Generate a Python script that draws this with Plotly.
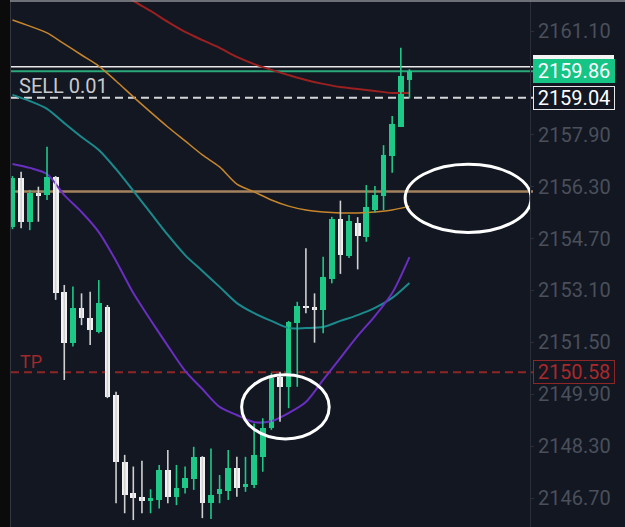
import plotly.graph_objects as go

# ---------------- data ----------------
opens = [2155.06, 2156.56, 2155.22, 2156.10, 2156.04, 2156.61, 2153.06, 2151.47, 2152.55, 2152.24,
         2151.83, 2152.60, 2149.88, 2147.82, 2146.84, 2146.72, 2146.62, 2146.64, 2147.56, 2146.74,
         2147.00, 2147.28, 2147.95, 2146.54, 2146.82, 2146.92, 2147.62, 2147.05, 2147.10, 2147.97,
         2148.85, 2150.44, 2150.13, 2152.11, 2152.62, 2152.58, 2152.50, 2153.44, 2155.29, 2154.16,
         2155.19, 2154.76, 2155.58, 2156.00, 2157.25, 2158.15, 2159.59]
highs = [2156.63, 2156.76, 2156.20, 2156.30, 2157.53, 2156.63, 2153.27, 2153.22, 2153.01, 2153.06,
         2153.42, 2152.65, 2149.98, 2148.03, 2147.67, 2147.85, 2146.97, 2147.72, 2148.18, 2147.72,
         2147.67, 2148.28, 2147.99, 2148.23, 2147.41, 2148.18, 2147.97, 2147.97, 2149.00, 2149.16,
         2150.55, 2150.59, 2152.16, 2152.75, 2154.40, 2153.01, 2154.14, 2155.37, 2155.87, 2155.43,
         2155.36, 2156.35, 2156.32, 2157.58, 2158.48, 2160.58, 2159.92]
lows = [2154.99, 2155.02, 2154.96, 2155.22, 2155.89, 2152.81, 2150.34, 2151.37, 2152.03, 2151.42,
        2151.78, 2149.78, 2146.54, 2146.23, 2146.02, 2146.23, 2146.23, 2146.38, 2146.54, 2146.48,
        2146.84, 2146.95, 2146.08, 2146.05, 2146.54, 2146.64, 2146.74, 2146.89, 2147.01, 2147.51,
        2148.80, 2149.05, 2149.47, 2150.13, 2152.40, 2151.49, 2151.78, 2153.32, 2153.61, 2154.10,
        2153.75, 2154.60, 2155.50, 2155.58, 2156.73, 2158.14, 2159.02]
closes = [2156.57, 2155.22, 2156.10, 2156.04, 2156.61, 2153.01, 2151.47, 2152.55, 2152.24, 2151.88,
          2152.70, 2149.82, 2147.82, 2146.79, 2146.69, 2146.62, 2146.69, 2147.56, 2146.74, 2147.00,
          2147.31, 2147.95, 2146.54, 2146.79, 2146.97, 2147.62, 2147.00, 2147.12, 2148.03, 2148.85,
          2150.39, 2150.13, 2152.14, 2152.62, 2152.55, 2152.52, 2153.51, 2155.29, 2154.19, 2155.25,
          2154.79, 2155.66, 2156.03, 2157.28, 2158.22, 2159.71, 2159.86]

# moving averages sampled every second bar
ma_index = list(range(0, 47, 2))
ma_red = [None, None, None, None, None, None, 2162.36, 2162.03, 2161.72, 2161.38, 2161.07, 2160.82,
          2160.58, 2160.30, 2160.08, 2159.90, 2159.74, 2159.59, 2159.47, 2159.37, 2159.31, 2159.25,
          2159.19, 2159.19]
ma_orange = [2161.44, 2161.25, 2161.04, 2160.70, 2160.36, 2160.02, 2159.56, 2159.07, 2158.60, 2158.14,
             2157.71, 2157.28, 2156.91, 2156.38, 2156.14, 2155.89, 2155.70, 2155.58, 2155.52, 2155.49,
             2155.49, 2155.52, 2155.58, 2155.70]
ma_teal = [2159.13, 2158.94, 2158.70, 2158.26, 2157.83, 2157.43, 2156.84, 2156.17, 2155.49, 2154.81,
           2154.19, 2153.70, 2153.21, 2152.71, 2152.40, 2152.16, 2151.94, 2151.94, 2151.97, 2152.16,
           2152.34, 2152.56, 2152.87, 2153.33]
ma_purple = [2157.00, 2156.88, 2156.69, 2156.04, 2155.52, 2154.90, 2154.01, 2153.02, 2152.19, 2151.39,
             2150.62, 2150.06, 2149.51, 2149.26, 2149.04, 2149.07, 2149.32, 2149.66, 2150.34, 2151.02,
             2151.70, 2152.31, 2153.02, 2154.13]

# price levels
level_ref = 2160.00
level_price = 2159.86
level_entry = 2159.04
level_tan = 2156.15
level_tp = 2150.58

# (2159.50 sits hidden behind the price boxes)
tick_labels = ["2146.70", "2148.30", "2149.90", "2151.50", "2153.10",
               "2154.70", "2156.30", "2157.90", "2161.10"]

# highlight ellipses (bar index / price)
ellipses = [
    {"x0": 45.5, "x1": 60.1, "y0": 2154.89, "y1": 2156.99},
    {"x0": 26.55, "x1": 36.7, "y0": 2148.52, "y1": 2150.50},
]

# ---------------- styling ----------------
BG = "#121722"
GREEN = "#1ec987"
WHITE = "#f2f2f2"
FONT = "Roboto"

idx = list(range(len(opens)))
up = [c >= o for o, c in zip(opens, closes)]

fig = go.Figure()

ma_styles = [
    (ma_red, "#9c2020", 2),
    (ma_orange, "#c8862c", 1.5),
    (ma_teal, "#1b8a8c", 2),
    (ma_purple, "#6a2ec0", 2),
]
for vals, col, w in ma_styles:
    fig.add_trace(go.Scatter(x=ma_index, y=vals, mode="lines",
                             line=dict(color=col, width=w, shape="spline", smoothing=0.8),
                             connectgaps=False, hoverinfo="skip", showlegend=False))

# wicks
for flag, col in [(True, GREEN), (False, "#d0d0d0")]:
    wx, wy = [], []
    for i in idx:
        if up[i] == flag:
            wx += [i, i, None]
            wy += [lows[i], highs[i], None]
    fig.add_trace(go.Scatter(x=wx, y=wy, mode="lines", line=dict(color=col, width=1.6),
                             hoverinfo="skip", showlegend=False))

# bodies
bases = [min(o, c) for o, c in zip(opens, closes)]
heights = [max(abs(c - o), 0.05) for o, c in zip(opens, closes)]
fig.add_trace(go.Bar(x=idx, y=heights, base=bases, width=0.66,
                     marker=dict(color=[GREEN if u else WHITE for u in up], line=dict(width=0)),
                     hoverinfo="skip", showlegend=False))

shapes = []
def hline(y, color, width, dash="solid"):
    shapes.append(dict(type="line", xref="paper", yref="y", x0=0, x1=1 + 3 / 519, y0=y, y1=y,
                       line=dict(color=color, width=width, dash=dash), layer="below"))

hline(level_tan, "#a3835e", 2.5)
hline(level_tp, "#8e2626", 2, "8px,5px")
hline(level_ref, "#e8e8e8", 1.5)
hline(level_price, "#2ba87a", 2)
hline(level_entry, "#d6d6d6", 2, "8px,5px")

# white label box of the 2160.00 line, mostly hidden behind the green price box
shapes.append(dict(type="rect", xref="paper", yref="y", x0=1 + 3 / 519, x1=1 + 84 / 519,
                   y0=level_ref - 0.36, y1=level_ref + 0.36, fillcolor="#f4f4f4",
                   line=dict(width=0), layer="above"))

for e in ellipses:
    shapes.append(dict(type="circle", xref="x", yref="y", x0=e["x0"], x1=e["x1"], y0=e["y0"], y1=e["y1"],
                       line=dict(color="white", width=3), layer="above"))

# left dark strip and borders
shapes.append(dict(type="rect", xref="paper", yref="paper", x0=-11 / 519, x1=-1 / 519, y0=0, y1=1,
                   fillcolor="#0b0b0c", line=dict(width=0), layer="above"))
shapes.append(dict(type="line", xref="paper", yref="paper", x0=-0.5 / 519, x1=-0.5 / 519, y0=0, y1=1,
                   line=dict(color="#34373f", width=1)))
shapes.append(dict(type="line", xref="paper", yref="paper", x0=-1 / 519, x1=614 / 519,
                   y0=1 - 1 / 527, y1=1 - 1 / 527, line=dict(color="#8c8f95", width=1.5)))

def price_label(y, text, bg, border, color):
    return dict(x=1, xref="paper", xanchor="left", xshift=3, y=y, yref="y", yanchor="middle",
                text=text, showarrow=False, bgcolor=bg, bordercolor=border, borderwidth=1, borderpad=2,
                width=76, height=18, align="center", font=dict(family=FONT, size=20, color=color))

annotations = [
    price_label(level_price, f"{level_price:.2f}", "#15c585", "#15c585", "white"),
    price_label(level_entry, f"{level_entry:.2f}", BG, "#e8e8e8", "white"),
    price_label(level_tp, f"{level_tp:.2f}", BG, "#8e2626", "#a8292b"),
    dict(x=6 / 519, xref="paper", xanchor="left", y=2159.40, yref="y", yanchor="middle",
         text="SELL 0.01", showarrow=False, font=dict(family=FONT, size=20, color="#c9c9cc")),
    dict(x=7 / 519, xref="paper", xanchor="left", y=2150.92, yref="y", yanchor="middle",
         text="TP", showarrow=False, font=dict(family=FONT, size=18, color="#a0292a")),
]

fig.update_layout(
    width=625, height=527,
    margin=dict(l=11, r=95, t=0, b=0, autoexpand=False),
    paper_bgcolor=BG, plot_bgcolor=BG,
    barmode="overlay", bargap=0,
    showlegend=False,
    shapes=shapes, annotations=annotations,
    xaxis=dict(range=[-0.174, 59.97], showgrid=False, zeroline=False, showticklabels=False,
               showline=False, fixedrange=True),
    yaxis=dict(range=[2145.806, 2162.056], side="right", showgrid=False, zeroline=False,
               tickvals=[float(t) for t in tick_labels], ticktext=tick_labels,
               ticks="outside", ticklen=3, tickcolor="#2a2e38", ticklabelstandoff=0,
               showline=True, linecolor="#2a2e38", linewidth=1, automargin=False,
               tickfont=dict(family=FONT, size=20, color="#4a4f5a"), fixedrange=True),
)

fig.write_html("out.html", config={"displayModeBar": False},
               post_script="document.body.style.margin='0';document.body.style.background='#121722';")
